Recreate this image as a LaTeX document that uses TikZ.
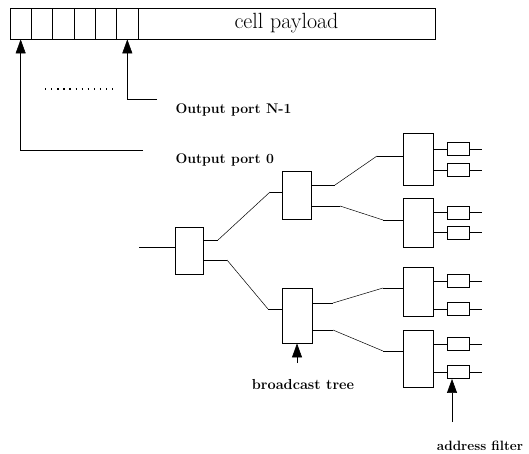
\documentclass[tikz,border=0pt]{standalone}
\usepackage{tikz}
\usetikzlibrary{arrows.meta,positioning,calc}

\begin{document}
\begin{tikzpicture}[x=1pt,y=-1pt,
  box/.style={draw,line width=0.8pt,inner sep=0pt,minimum width=29pt},
  filt/.style={draw,line width=0.8pt,inner sep=0pt,minimum width=22pt,minimum height=13pt},
  cellbox/.style={draw,line width=0.8pt,inner sep=0pt,minimum width=21.33pt,minimum height=31pt},
  wire/.style={line width=0.5pt},
  stub/.style={line width=0.9pt},
  pointer/.style={line width=0.6pt,-{Triangle[length=14pt,width=10pt]}},
  lbl/.style={font=\fontsize{14}{16}\selectfont\bfseries}]
  \useasboundingbox (0,0) rectangle (529,453); % 画像全体の大きさ
  \foreach \i in {1,...,6}
    \node[cellbox] (h\i) at ({10+21.33*(\i-0.5)},23.5) {}; % ヘッダ部の小さなセル
  \node[cellbox,minimum width=297pt,font=\fontsize{22}{24}\selectfont] (pay) at (286.5,23.5) {cell payload}; % ペイロード部
  \coordinate (p0) at (143,150);
  \coordinate (pn) at (157,99);
  \draw[pointer] (p0) -| (h1.south); % 出力ポート0への矢印
  \draw[pointer] (pn) -| (h6.south); % 出力ポートN-1への矢印
  \draw[line width=1.3pt,dash pattern=on 1.3pt off 4.8pt] (45,89) -- (113,89); % 省略を表す点線
  \node[lbl,anchor=west] (on) at (172,110) {Output port N-1};
  \node[lbl,anchor=west] (o0) at (172,160) {Output port 0};
  % ブロードキャスト木
  \node[box,minimum width=28pt,minimum height=47pt] (r) at (189,250.5) {};
  \node[box,minimum height=48pt] (a) at (296.5,195) {};
  \node[box,minimum width=30pt,minimum height=55pt] (b) at (297,315.5) {};
  \node[box,minimum width=30pt,minimum height=52pt] (q1) at (418,159) {};
  \node[box,minimum width=30pt,minimum height=49pt] (q2) at (418,222.5) {};
  \node[box,minimum width=30pt,minimum height=49pt] (q3) at (418,291.5) {};
  \node[box,minimum width=30pt,minimum height=57pt] (q4) at (418,358.5) {};
  % アドレスフィルタ
  \foreach \q/\ya/\yb in {1/149/170,2/212.5/232.5,3/281/309,4/344/372} {
    \node[filt] (f\q1) at (458,\ya) {};
    \node[filt] (f\q2) at (458,\yb) {};
  }
  \coordinate (in) at (139,247);
  \draw[stub] (in) -- (in -| r.west); % 入力線
  \foreach \s/\ys/\d/\yd/\xa/\xb in {r/240/a/192/218/270, r/260/b/309/227/268,
      a/185/q1/156/335/377, a/206/q2/220/340/383, b/303/q3/288/333/383, b/330/q4/351/333/383} {
    \draw[stub] (\s.east |- 0,\ys) -- (\xa,\ys);
    \draw[wire] (\xa,\ys) -- (\xb,\yd);
    \draw[stub] (\xb,\yd) -- (\d.west |- 0,\yd);
  }
  \foreach \q in {1,...,4}
    \foreach \k in {1,2} {
      \draw[stub] (f\q\k.west) -- (f\q\k.west -| q\q.east);
      \draw[stub] (f\q\k.east) -- ++(13,0);
    }
  \node[lbl,font=\fontsize{14.5}{16}\selectfont\bfseries] (bt) at (303,385) {broadcast tree};
  \coordinate (bttail) at (297,363);
  \draw[pointer] (bttail) -- (b.south); % 木を指す矢印
  \node[lbl,font=\fontsize{13.5}{16}\selectfont\bfseries] (af) at (480,446) {address filter};
  \coordinate (aftail) at (452,422);
  \draw[pointer] (aftail) -- (aftail |- f42.south); % フィルタを指す矢印
\end{tikzpicture}
\end{document}
